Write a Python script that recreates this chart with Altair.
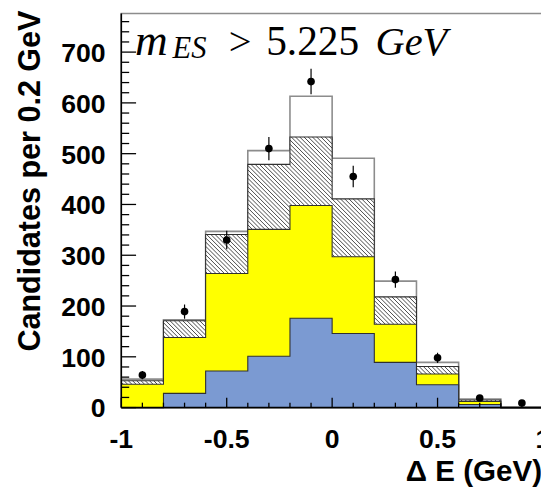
import math
import altair as alt
import pandas as pd

# ---------------- data ----------------
bin_left = [-1.0, -0.8, -0.6, -0.4, -0.2, 0.0, 0.2, 0.4, 0.6, 0.8]
bin_width = 0.2
blue_top = [0, 28, 72, 101, 176, 146, 89, 45, 6, 0]          # blue component (cumulative top)
yellow_top = [46, 138, 264, 351, 398, 297, 164, 66, 12, 0]   # blue + yellow
hatch_top = [53, 171, 341, 479, 533, 411, 218, 81, 15, 0]    # + hatched
total_top = [56, 173, 347, 506, 613, 491, 249, 89, 17, 1]    # + white (total)
data_y = [64, 189, 330, 510, 642, 455, 252, 98, 19, 9]
data_err = [8, 14, 18, 23, 25, 21, 16, 10, 4, 3]

x_label_ticks = [-1, -0.5, 0, 0.5, 1]
x_label_text = ["-1", "-0.5", "0", "0.5", "1"]
y_label_ticks = [0, 100, 200, 300, 400, 500, 600, 700]
y_label_text = ["0", "100", "200", "300", "400", "500", "600", "700"]
x_minor_ticks = [round(-1 + 0.1 * i, 1) for i in range(21)]
y_minor_ticks = [20 * i for i in range(39)]

x_title = "Δ E (GeV)"
y_title = "Candidates per 0.2 GeV"
ann_m, ann_sub, ann_gt, ann_val, ann_unit = "m", "ES", ">", "5.225", "GeV"

# ---------------- layout ----------------
W, H = 428, 400
XD = [-1, 1]
YD = [0, 776]
xs = alt.Scale(domain=XD, nice=False, zero=False)
ys = alt.Scale(domain=YD, nice=False, zero=True)

BLUE = "#7b9ad2"
YELLOW = "#ffff00"
EDGE = "#303030"
SANS = "Liberation Sans"


def X(field):
    return alt.X(field, scale=xs, axis=None)


def Y(field):
    return alt.Y(field, scale=ys, axis=None)


def step_df(values):
    return pd.DataFrame({"x": bin_left + [bin_left[-1] + bin_width],
                         "v": values + [values[-1]]})


def area(values, fill):
    return alt.Chart(step_df(values)).mark_area(
        interpolate="step-after", color=fill, opacity=1).encode(x=X("x:Q"), y=Y("v:Q"))


def outline(values, color, width):
    return alt.Chart(step_df(values)).mark_line(
        interpolate="step-after", color=color, strokeWidth=width).encode(x=X("x:Q"), y=Y("v:Q"))


# hatch lines ("\\" direction) inside the hatched band
kx = W / (XD[1] - XD[0])
ky = H / (YD[1] - YD[0])
sp = 4.3
rows = []
for xl, vb, vt in zip(bin_left, yellow_top, hatch_top):
    if vt <= vb:
        continue
    pxl = (xl - XD[0]) * kx
    pxr = (xl + bin_width - XD[0]) * kx
    pyb, pyt = vb * ky, vt * ky
    for k in range(math.ceil((pxl + pyb) / sp), math.floor((pxr + pyt) / sp) + 1):
        c = k * sp
        a = max(pxl, c - pyt)
        b = min(pxr, c - pyb)
        if b - a > 0.3:
            rows.append({"x": a / kx + XD[0], "y": (c - a) / ky,
                         "x2": b / kx + XD[0], "y2": (c - b) / ky})
hatch = alt.Chart(pd.DataFrame(rows)).mark_rule(color="#333333", strokeWidth=0.9).encode(
    x=X("x:Q"), y=Y("y:Q"), x2="x2:Q", y2="y2:Q")

# inward ticks
xmaj = [t for t in x_minor_ticks if abs(t * 2 - round(t * 2)) < 1e-9]
xmin = [t for t in x_minor_ticks if t not in xmaj]
ymaj = [t for t in y_minor_ticks if t % 100 == 0]
ymin = [t for t in y_minor_ticks if t % 100 != 0]


def xticks(vals, length):
    return alt.Chart(pd.DataFrame({"t": vals})).mark_rule(color="black", strokeWidth=1.3).encode(
        x=X("t:Q"), y=alt.value(H), y2=alt.value(H - length))


def yticks(vals, length):
    return alt.Chart(pd.DataFrame({"t": vals})).mark_rule(color="black", strokeWidth=1.3).encode(
        y=Y("t:Q"), x=alt.value(0), x2=alt.value(length))


# axis lines
left_line = alt.Chart(pd.DataFrame({"a": [0]})).mark_rule(color="black", strokeWidth=1.6).encode(
    x=alt.value(0), y=alt.value(0), y2=alt.value(H))
bottom_line = alt.Chart(pd.DataFrame({"a": [0]})).mark_rule(color="black", strokeWidth=1.6).encode(
    y=alt.value(H), x=alt.value(0), x2=alt.value(W + 5))

# tick labels
xlab = alt.Chart(pd.DataFrame({"t": x_label_ticks, "s": x_label_text})).mark_text(
    font=SANS, fontWeight="bold", fontSize=27, color="black", align="center",
    baseline="alphabetic").encode(x=X("t:Q"), y=alt.value(H + 41), text="s:N")
ylab = alt.Chart(pd.DataFrame({"t": y_label_ticks, "s": y_label_text})).mark_text(
    font=SANS, fontWeight="bold", fontSize=27, color="black", align="right",
    baseline="alphabetic", dy=10).encode(y=Y("t:Q"), x=alt.value(-16), text="s:N")

# axis titles
xtit = alt.Chart(pd.DataFrame({"s": [x_title]})).mark_text(
    font=SANS, fontWeight="bold", fontSize=30, color="black", align="right",
    baseline="alphabetic").encode(x=alt.value(427), y=alt.value(H + 75), text="s:N")
ytit = alt.Chart(pd.DataFrame({"s": [y_title]})).mark_text(
    font=SANS, fontWeight="bold", fontSize=31, color="black", align="right",
    baseline="alphabetic", angle=270).encode(x=alt.value(-83), y=alt.value(-3), text="s:N")

pts_df = pd.DataFrame({"c": [b + bin_width / 2 for b in bin_left], "y": data_y,
                       "lo": [v - e for v, e in zip(data_y, data_err)],
                       "hi": [v + e for v, e in zip(data_y, data_err)]})
ebars = alt.Chart(pts_df).mark_rule(color="black", strokeWidth=1.2).encode(
    x=X("c:Q"), y=Y("lo:Q"), y2="hi:Q")
points = alt.Chart(pts_df).mark_point(filled=True, color="black", size=60, opacity=1).encode(
    x=X("c:Q"), y=Y("y:Q"))


def label(txt, x, y, size, italic):
    return alt.Chart(pd.DataFrame({"t": [txt]})).mark_text(
        font="Liberation Serif", fontSize=size, fontStyle="italic" if italic else "normal",
        align="left", baseline="alphabetic", color="black").encode(
        text="t:N", x=alt.value(x), y=alt.value(y))


chart = alt.layer(
    area(total_top, "white"),
    outline(total_top, "#8c8c8c", 1.6),
    area(hatch_top, "white"),
    hatch,
    outline(hatch_top, EDGE, 1.1),
    area(yellow_top, YELLOW),
    outline(yellow_top, EDGE, 1.1),
    area(blue_top, BLUE),
    outline(blue_top, EDGE, 1.1),
    xticks(xmin, 5), xticks(xmaj, 10),
    yticks(ymin, 8), yticks(ymaj, 15),
    left_line, bottom_line,
    xlab, ylab, xtit, ytit,
    ebars, points,
    label(ann_m, 14, 42, 46, True),
    label(ann_sub, 52, 45, 31, True),
    label(ann_gt, 109, 42, 41, False),
    label(ann_val, 147, 42, 42, False),
    label(ann_unit, 258, 42, 41, True),
).properties(
    width=W, height=H, autosize=alt.AutoSizeParams(type="none"),
    padding={"left": 115, "top": 2, "right": -2, "bottom": 77},
    background="white",
).configure_view(stroke="#8c8c8c", strokeWidth=1.5)

chart.save("out.html", embed_options={"renderer": "svg", "actions": False})
